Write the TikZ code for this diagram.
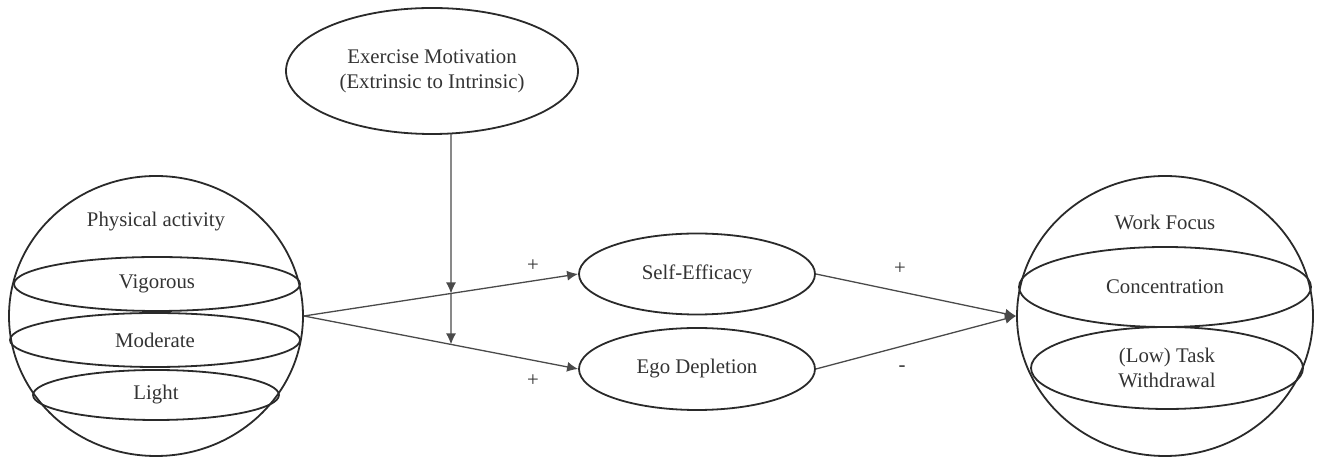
\documentclass[tikz,border=0pt]{standalone}
\usepackage{fontspec}
\setmainfont{Liberation Serif}
\usetikzlibrary{shapes.geometric,arrows.meta}
\definecolor{txt}{HTML}{333333}
\definecolor{ln}{HTML}{2A2A2A}
\begin{document}
\begin{tikzpicture}[x=0.5pt,y=-0.5pt,
  every node/.style={font=\fontsize{10.4}{12.5}\selectfont, text=txt},
  oval/.style={draw=ln, line width=0.9pt, ellipse, inner sep=0pt, align=center},
  lbl/.style={inner sep=0pt},
  conn/.style={draw=ln!85, line width=0.65pt},
  arr/.style={conn, -{Latex[length=5.5pt,width=5pt]}}]
\useasboundingbox (0,0) rectangle (1317,458);
% outer spheres
\node[oval, minimum width=147pt, minimum height=140pt] (pa) at (156,316) {};
\node[oval, minimum width=148pt, minimum height=140pt] (wf) at (1165,316) {};
\node[lbl] (patxt) at (156,222) {Physical activity};
\node[lbl] (wftxt) at (1165,222) {Work Focus};
% inner ellipses left
\node[oval, minimum width=143pt, minimum height=27pt] (vig) at (157,284) {Vigorous};
\node[oval, minimum width=145pt, minimum height=27pt] (mod) at (155,340) {Moderate};
\node[oval, minimum width=123pt, minimum height=25pt] (lig) at (156,395) {Light};
% inner ellipses right
\node[oval, minimum width=146pt, minimum height=40pt] (con) at (1165,287) {Concentration};
\node[oval, minimum width=136pt, minimum height=41pt] (tw) at (1167,368) {(Low) Task\\Withdrawal};
% middle
\node[oval, minimum width=146pt, minimum height=63pt] (em) at (432,71) {Exercise Motivation\\(Extrinsic to Intrinsic)};
\node[oval, minimum width=118pt, minimum height=40.5pt] (se) at (697,274) {Self-Efficacy};
\node[oval, minimum width=118pt, minimum height=41pt] (ego) at (697,369) {Ego Depletion};
% connectors
\draw[arr] (pa.east) -- (se.west);
\draw[arr] (pa.east) -- (ego.west);
\coordinate (m1) at (intersection of pa.east--se.west and 451,0--451,500);
\coordinate (m2) at (intersection of pa.east--ego.west and 451,0--451,500);
\coordinate (mt) at (451,134);
\draw[arr] (mt) -- (m1);
\draw[arr] (m1) -- (m2);
\draw[arr] (se.east) -- (wf.west);
\draw[arr] (ego.east) -- (wf.west);
% signs
\node[lbl] (s1) at (533,266) {+};
\node[lbl] (s2) at (533,381) {+};
\node[lbl] (s3) at (900,269) {+};
\node[lbl] (s4) at (902,369) {-};
\end{tikzpicture}
\end{document}
